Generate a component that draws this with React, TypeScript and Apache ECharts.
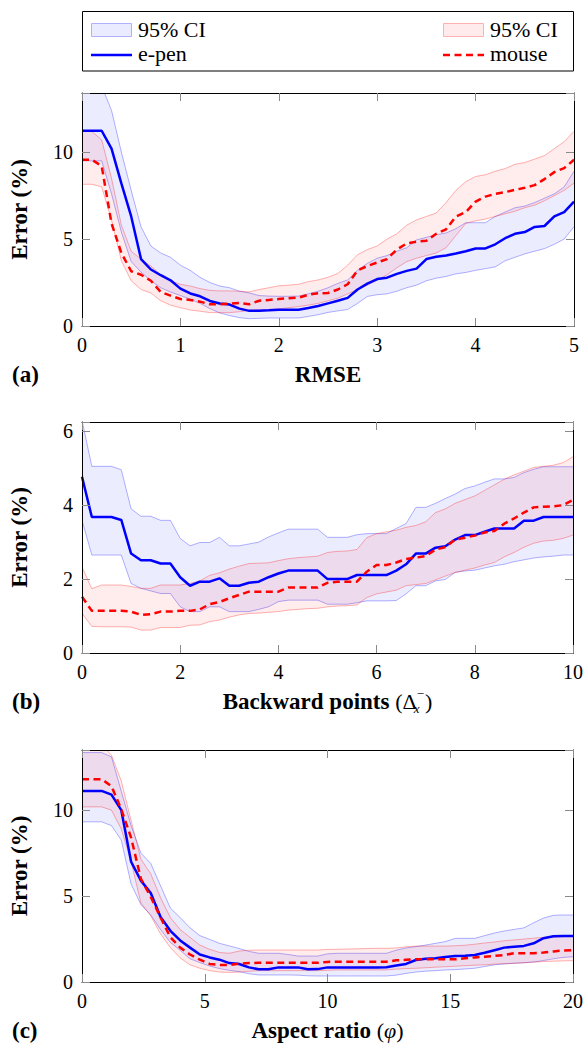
import React, { useEffect, useRef } from "react";
import * as echarts from "echarts";

const FONT = "Liberation Serif";

// ---------- Panel (a): RMSE ----------
const rmseX = [0,0.1,0.2,0.3,0.4,0.5,0.6,0.7,0.8,0.9,1.0,1.1,1.2,1.3,1.4,1.5,1.6,1.7,1.8,1.9,2.0,2.1,2.2,2.3,2.4,2.5,2.6,2.7,2.8,2.9,3.0,3.1,3.2,3.3,3.4,3.5,3.6,3.7,3.8,3.9,4.0,4.1,4.2,4.3,4.4,4.5,4.6,4.7,4.8,4.9,5.0];
const rmsePenMean = [11.23,11.23,11.23,10.2,8.2,6.3,3.85,3.25,2.92,2.63,2.15,1.87,1.71,1.44,1.29,1.23,1.0,0.87,0.87,0.9,0.94,0.94,0.94,1.04,1.15,1.3,1.45,1.62,2.1,2.44,2.7,2.78,3.0,3.17,3.3,3.85,3.98,4.05,4.17,4.3,4.46,4.46,4.7,5.05,5.3,5.4,5.7,5.75,6.3,6.55,7.15];
const rmsePenUpper = [14.5,14.5,13.8,12.4,10.0,7.8,5.7,4.6,4.2,3.95,3.5,3.2,2.8,2.5,2.3,2.2,2.0,1.9,1.75,1.72,1.71,1.71,1.72,1.85,2.0,2.2,2.45,2.65,3.2,3.6,3.9,4.05,4.3,4.5,4.95,5.1,5.25,5.35,5.6,5.94,5.94,5.94,6.3,6.55,6.8,6.9,7.1,7.35,7.6,8.0,8.9];
const rmsePenLower = [9.5,9.5,9.5,7.6,5.4,3.7,3.1,2.6,2.2,1.95,1.75,1.55,1.3,1.0,0.75,0.6,0.48,0.42,0.44,0.46,0.46,0.46,0.46,0.55,0.65,0.78,0.87,0.95,1.3,1.7,1.8,1.85,2.0,2.2,2.35,2.6,2.75,2.85,3.0,3.08,3.2,3.3,3.4,3.75,3.95,4.15,4.3,4.45,4.7,5.0,5.71];
const rmseMouseMean = [9.56,9.56,9.2,5.9,4.2,3.15,2.95,2.6,1.96,1.75,1.55,1.5,1.4,1.25,1.25,1.28,1.33,1.25,1.45,1.5,1.55,1.6,1.63,1.8,1.88,1.9,2.1,2.4,3.2,3.45,3.65,3.85,4.4,4.75,4.85,4.9,5.3,5.56,6.3,6.55,7.15,7.44,7.6,7.7,7.83,7.95,8.1,8.45,8.85,9.08,9.56];
const rmseMouseUpper = [11.19,11.19,10.7,8.5,5.8,4.3,3.85,3.45,2.95,2.6,2.4,2.3,2.15,2.05,2.02,2.02,2.0,1.96,2.1,2.2,2.31,2.35,2.4,2.55,2.65,2.8,3.02,3.5,4.1,4.4,4.6,5.0,5.3,5.8,6.1,6.3,6.5,7.1,7.8,8.3,8.6,8.7,8.9,9.05,9.3,9.4,9.6,9.8,10.2,10.6,11.2];
const rmseMouseLower = [8.15,8.15,8.0,6.1,3.75,2.6,2.1,1.9,1.45,1.2,1.05,0.92,0.85,0.77,0.77,0.77,0.82,0.9,0.92,0.94,0.98,1.05,1.12,1.2,1.3,1.45,1.6,1.85,2.1,2.35,2.63,2.95,3.35,3.7,3.9,4.05,4.2,4.5,5.2,5.9,6.05,6.15,6.3,6.45,6.6,6.8,6.95,7.2,7.5,7.8,8.21];

// ---------- Panel (b): Backward points ----------
const backX = [0,0.2,0.4,0.6,0.8,1.0,1.2,1.4,1.6,1.8,2.0,2.2,2.4,2.6,2.8,3.0,3.2,3.4,3.6,3.8,4.0,4.2,4.4,4.6,4.8,5.0,5.2,5.4,5.6,5.8,6.0,6.2,6.4,6.6,6.8,7.0,7.2,7.4,7.6,7.8,8.0,8.2,8.4,8.6,8.8,9.0,9.2,9.4,9.6,9.8,10.0];
const backPenMean = [4.77,3.68,3.68,3.68,3.6,2.69,2.51,2.51,2.42,2.42,2.05,1.82,1.93,1.93,2.02,1.82,1.82,1.9,1.93,2.05,2.15,2.23,2.23,2.23,2.23,2.0,2.0,2.0,2.11,2.11,2.11,2.11,2.23,2.4,2.69,2.69,2.85,2.89,3.07,3.19,3.19,3.28,3.37,3.37,3.37,3.58,3.58,3.68,3.68,3.68,3.68];
const backPenUpper = [6.3,5.05,5.05,5.05,4.96,3.9,3.7,3.7,3.59,3.59,3.1,2.9,2.99,2.99,3.13,2.9,2.9,2.95,3.0,3.14,3.25,3.35,3.35,3.35,3.35,3.13,3.13,3.13,3.2,3.23,3.23,3.23,3.37,3.5,3.94,3.94,4.05,4.18,4.3,4.45,4.52,4.62,4.71,4.71,4.75,4.88,4.97,5.04,5.04,5.04,5.04];
const backPenLower = [3.59,2.65,2.65,2.65,2.65,1.88,1.75,1.68,1.61,1.61,1.25,1.12,1.12,1.25,1.25,1.12,1.12,1.12,1.18,1.25,1.39,1.43,1.43,1.43,1.43,1.32,1.32,1.32,1.36,1.41,1.41,1.41,1.42,1.6,1.82,1.82,1.95,1.99,2.18,2.22,2.24,2.3,2.36,2.4,2.47,2.52,2.57,2.6,2.62,2.65,2.65];
const backMouseMean = [1.52,1.14,1.14,1.14,1.14,1.12,1.03,1.05,1.12,1.12,1.14,1.14,1.18,1.32,1.38,1.48,1.57,1.66,1.66,1.66,1.66,1.77,1.77,1.77,1.77,1.9,1.93,1.93,1.93,2.2,2.38,2.38,2.45,2.54,2.58,2.62,2.8,2.86,3.07,3.12,3.18,3.26,3.3,3.5,3.64,3.8,3.94,3.96,3.97,4.0,4.14];
const backMouseUpper = [2.33,1.74,1.84,1.84,1.84,1.8,1.75,1.75,1.84,1.84,1.84,1.88,1.95,2.1,2.17,2.27,2.35,2.42,2.43,2.44,2.5,2.55,2.58,2.6,2.62,2.72,2.75,2.76,2.8,3.12,3.23,3.28,3.32,3.4,3.45,3.55,3.8,3.9,4.05,4.15,4.25,4.4,4.55,4.7,4.82,4.92,5.02,5.05,5.08,5.15,5.31];
const backMouseLower = [1.07,0.72,0.71,0.71,0.71,0.7,0.62,0.62,0.69,0.69,0.69,0.75,0.76,0.85,0.89,0.97,1.03,1.07,1.08,1.1,1.12,1.16,1.18,1.2,1.21,1.25,1.27,1.28,1.3,1.5,1.6,1.65,1.7,1.82,1.85,1.88,1.98,2.08,2.18,2.24,2.3,2.38,2.45,2.6,2.72,2.86,2.97,3.03,3.05,3.1,3.19];

// ---------- Panel (c): Aspect ratio ----------
const aspectX = [0,0.4,0.8,1.2,1.6,2.0,2.4,2.8,3.2,3.6,4.0,4.4,4.8,5.2,5.6,6.0,6.4,6.8,7.2,7.6,8.0,8.4,8.8,9.2,9.6,10.0,10.4,10.8,11.2,11.6,12.0,12.4,12.8,13.2,13.6,14.0,14.4,14.8,15.2,15.6,16.0,16.4,16.8,17.2,17.6,18.0,18.4,18.8,19.2,19.6,20.0];
const aspectPenMean = [11.12,11.12,11.12,10.9,10.0,7.0,5.9,5.18,3.78,2.98,2.42,2.0,1.6,1.43,1.3,1.1,1.05,0.85,0.74,0.74,0.85,0.85,0.85,0.74,0.75,0.85,0.85,0.85,0.85,0.85,0.85,0.86,0.96,1.05,1.28,1.35,1.38,1.45,1.51,1.53,1.57,1.7,1.85,2.0,2.05,2.1,2.25,2.55,2.66,2.67,2.67];
const aspectPenUpper = [13.35,13.35,13.35,13.1,11.1,9.1,7.5,6.9,5.6,4.3,3.75,3.15,2.7,2.48,2.25,2.1,1.95,1.78,1.67,1.67,1.67,1.6,1.51,1.51,1.51,1.64,1.67,1.67,1.67,1.67,1.67,1.67,1.85,1.98,2.06,2.15,2.25,2.35,2.54,2.54,2.54,2.7,2.85,2.97,3.06,3.15,3.45,3.72,3.88,3.9,3.9];
const aspectPenLower = [9.32,9.32,9.32,9.1,8.26,5.7,4.5,3.9,3.05,2.3,1.85,1.35,1.13,0.93,0.78,0.68,0.6,0.48,0.41,0.41,0.41,0.41,0.4,0.36,0.35,0.35,0.35,0.35,0.35,0.35,0.35,0.35,0.4,0.5,0.58,0.63,0.66,0.7,0.72,0.76,0.8,0.9,1.0,1.05,1.09,1.12,1.16,1.25,1.35,1.43,1.47];
const aspectMouseMean = [11.8,11.8,11.8,11.4,10.05,8.4,6.0,4.95,3.75,2.6,2.0,1.6,1.3,1.05,0.99,0.99,1.07,1.1,1.12,1.12,1.12,1.12,1.12,1.12,1.12,1.17,1.18,1.18,1.18,1.18,1.18,1.18,1.26,1.29,1.32,1.32,1.32,1.32,1.32,1.38,1.43,1.47,1.52,1.57,1.67,1.67,1.67,1.72,1.78,1.83,1.86];
const aspectMouseUpper = [13.8,13.8,13.8,13.2,11.7,9.4,7.15,6.3,4.9,3.75,3.05,2.6,2.15,1.9,1.72,1.67,1.8,1.85,1.86,1.86,1.86,1.86,1.86,1.86,1.86,1.9,1.9,1.92,1.93,1.95,1.96,1.96,1.98,2.05,2.09,2.09,2.09,2.09,2.11,2.14,2.2,2.27,2.33,2.4,2.45,2.5,2.55,2.6,2.62,2.64,2.67];
const aspectMouseLower = [10.19,10.19,10.19,10.0,8.9,7.0,4.6,3.85,2.8,2.0,1.4,1.0,0.8,0.66,0.58,0.56,0.58,0.62,0.66,0.66,0.66,0.66,0.66,0.66,0.66,0.68,0.7,0.7,0.7,0.7,0.7,0.7,0.75,0.78,0.8,0.83,0.86,0.89,0.92,0.95,0.98,1.0,1.04,1.07,1.09,1.12,1.16,1.19,1.21,1.23,1.24];

// ---------- Labels ----------
const panelLetters = ["(a)", "(b)", "(c)"];
const legendLabels = ["95% CI", "e-pen", "95% CI", "mouse"];
const yLabel = "Error (%)";

const BLUE = "#0000ff";
const RED = "#ff0000";
const BLUE_FILL = "rgba(0,0,255,0.075)";
const RED_FILL = "rgba(255,0,0,0.075)";
const BLUE_EDGE = "rgba(0,0,255,0.3)";
const RED_EDGE = "rgba(255,0,0,0.3)";

const panels = [
  { x: rmseX, pm: rmsePenMean, pu: rmsePenUpper, pl: rmsePenLower, mm: rmseMouseMean, mu: rmseMouseUpper, ml: rmseMouseLower,
    xMax: 5, xInt: 1, yMax: 13.4, yInt: 5, grid: { left: 82, top: 93, width: 492, height: 233 },
    name: "{b|RMSE}" },
  { x: backX, pm: backPenMean, pu: backPenUpper, pl: backPenLower, mm: backMouseMean, mu: backMouseUpper, ml: backMouseLower,
    xMax: 10, xInt: 2, yMax: 6.25, yInt: 2, grid: { left: 82, top: 422, width: 492, height: 231 },
    name: "{b|Backward points }{r|(Δ}{sub|x}{sup|−}{r|)}" },
  { x: aspectX, pm: aspectPenMean, pu: aspectPenUpper, pl: aspectPenLower, mm: aspectMouseMean, mu: aspectMouseUpper, ml: aspectMouseLower,
    xMax: 20, xInt: 5, yMax: 13.5, yInt: 5, grid: { left: 82, top: 750, width: 492, height: 232 },
    name: "{b|Aspect ratio }{r|(}{i|φ}{r|)}" },
];

const nameRich = {
  b: { fontFamily: FONT, fontWeight: "bold", fontSize: 23, lineHeight: 28, color: "#000" },
  r: { fontFamily: FONT, fontWeight: "normal", fontSize: 22, lineHeight: 28, color: "#000" },
  i: { fontFamily: FONT, fontWeight: "normal", fontStyle: "italic", fontSize: 22, lineHeight: 28, color: "#000" },
  sub: { fontFamily: FONT, fontStyle: "italic", fontSize: 13, lineHeight: 12, verticalAlign: "bottom", width: 0, color: "#000" },
  sup: { fontFamily: FONT, fontSize: 13, lineHeight: 12, verticalAlign: "top", padding: [0, 1, 0, 0], color: "#000" },
};
const tickRich = { t: { fontFamily: FONT, fontWeight: "normal", fontSize: 20, lineHeight: 22, color: "#000" } };
const legendRich = { t: { fontFamily: FONT, fontWeight: "normal", fontSize: 22, lineHeight: 24, color: "#000" } };

const tickFmt = (interval: number) => (v: number) =>
  Math.abs(v / interval - Math.round(v / interval)) < 1e-6 ? "{t|" + Math.round(v) + "}" : "";

function bandSeries(xs: number[], lower: number[], upper: number[], edge: string, fill: string, axisIndex: number) {
  return {
    type: "custom",
    xAxisIndex: axisIndex,
    yAxisIndex: axisIndex,
    silent: true,
    clip: true,
    z: 2,
    data: [[xs[0], lower[0]]],
    renderItem: (params: any, api: any) => {
      const up = xs.map((x, i) => api.coord([x, upper[i]]));
      const lo = xs.map((x, i) => api.coord([x, lower[i]]));
      const cs = params.coordSys;
      return {
        type: "group",
        clipPath: { type: "rect", shape: { x: cs.x, y: cs.y, width: cs.width, height: cs.height } },
        children: [
          { type: "polygon", shape: { points: up.concat(lo.slice().reverse()) }, style: { fill, stroke: "none" } },
          { type: "polyline", shape: { points: up }, style: { fill: "none", stroke: edge, lineWidth: 1 } },
          { type: "polyline", shape: { points: lo }, style: { fill: "none", stroke: edge, lineWidth: 1 } },
        ],
      };
    },
  };
}

function buildOption() {
  const grid: any[] = [];
  const xAxis: any[] = [];
  const yAxis: any[] = [];
  const series: any[] = [];
  const graphic: any[] = [];

  panels.forEach((p, gi) => {
    grid.push({ ...p.grid, show: false });
    const axisLine = { show: true, onZero: false, lineStyle: { color: "#000", width: 1 } };
    const axisTick = { show: true, inside: true, length: 8, lineStyle: { color: "#8a8a8a", width: 1 } };
    xAxis.push({
      type: "value", gridIndex: gi, min: 0, max: p.xMax, interval: p.xInt, position: "bottom", z: 6,
      axisLine, axisTick, splitLine: { show: false },
      axisLabel: { margin: 8, fontFamily: FONT, fontSize: 20, color: "#000", rich: tickRich, formatter: tickFmt(p.xInt) },
      name: p.name, nameLocation: "middle", nameGap: 34,
      nameTextStyle: { rich: nameRich },
    });
    xAxis.push({
      type: "value", gridIndex: gi, min: 0, max: p.xMax, interval: p.xInt, position: "top", z: 6,
      axisLine, axisTick, splitLine: { show: false }, axisLabel: { show: false },
    });
    yAxis.push({
      type: "value", gridIndex: gi, min: 0, max: p.yMax, interval: p.yInt, position: "left", z: 6,
      axisLine, axisTick, splitLine: { show: false },
      axisLabel: { margin: 9, fontFamily: FONT, fontSize: 20, color: "#000", rich: tickRich, formatter: tickFmt(p.yInt) },
      name: yLabel, nameLocation: "middle", nameRotate: 90, nameGap: 51,
      nameTextStyle: { fontFamily: FONT, fontWeight: "bold", fontSize: 23, color: "#000" },
    });
    yAxis.push({
      type: "value", gridIndex: gi, min: 0, max: p.yMax, interval: p.yInt, position: "right", z: 6,
      axisLine, axisTick, splitLine: { show: false }, axisLabel: { show: false },
    });

    const xi = gi * 2;
    series.push(bandSeries(p.x, p.pl, p.pu, BLUE_EDGE, BLUE_FILL, xi));
    series.push(bandSeries(p.x, p.ml, p.mu, RED_EDGE, RED_FILL, xi));
    series.push({
      type: "line", xAxisIndex: xi, yAxisIndex: xi, symbol: "none", silent: true, z: 4,
      data: p.x.map((x, i) => [x, p.pm[i]]),
      lineStyle: { color: BLUE, width: 2.5 },
    });
    series.push({
      type: "line", xAxisIndex: xi, yAxisIndex: xi, symbol: "none", silent: true, z: 5,
      data: p.x.map((x, i) => [x, p.mm[i]]),
      lineStyle: { color: RED, width: 2.5, type: [7, 4.5] },
    });

    const cy = p.grid.top + p.grid.height + 48;
    graphic.push({
      type: "text", x: 12, y: cy, silent: true,
      style: { text: panelLetters[gi], fontFamily: FONT, fontWeight: "bold", fontSize: 23, fill: "#000",
        textAlign: "left", align: "left", textVerticalAlign: "middle", verticalAlign: "middle" },
    });
  });

  const txt = (s: string, x: number, y: number) => ({
    type: "text", x, y, silent: true, z: 11,
    style: { text: "{t|" + s + "}", rich: legendRich, fontFamily: FONT, fontSize: 22, fill: "#000",
      textAlign: "left", align: "left", textVerticalAlign: "middle", verticalAlign: "middle" },
  });
  graphic.push(
    { type: "rect", silent: true, z: 10, shape: { x: 82.5, y: 11.5, width: 491, height: 59.5 },
      style: { fill: "#fff", stroke: "#000", lineWidth: 1 } },
    { type: "rect", silent: true, z: 11, shape: { x: 91.5, y: 23.5, width: 40, height: 13 },
      style: { fill: "#ebebff", stroke: "#b0b0ff", lineWidth: 1 } },
    { type: "line", silent: true, z: 11, shape: { x1: 91, y1: 55, x2: 132, y2: 55 },
      style: { stroke: BLUE, lineWidth: 2.5 } },
    { type: "rect", silent: true, z: 11, shape: { x: 443.5, y: 23.5, width: 40, height: 13 },
      style: { fill: "#ffebeb", stroke: "#ffb0b0", lineWidth: 1 } },
    { type: "line", silent: true, z: 11, shape: { x1: 443, y1: 55, x2: 484, y2: 55 },
      style: { stroke: RED, lineWidth: 2.5, lineDash: [7, 4.5] } },
    txt(legendLabels[0], 138, 29.5),
    txt(legendLabels[1], 138, 53),
    txt(legendLabels[2], 490, 29.5),
    txt(legendLabels[3], 490, 53),
  );

  return { animation: false, backgroundColor: "#fff", textStyle: { fontFamily: FONT }, grid, xAxis, yAxis, series, graphic };
}

export default function App() {
  const ref = useRef<HTMLDivElement>(null);
  useEffect(() => {
    if (!ref.current) return;
    const chart = echarts.init(ref.current, undefined, { renderer: "svg" });
    chart.setOption(buildOption() as any);
    return () => chart.dispose();
  }, []);
  return (
    <div
      ref={ref}
      style={{ position: "absolute", left: 0, top: 0, width: 586, height: 1045, background: "#fff", fontFamily: FONT }}
    />
  );
}
